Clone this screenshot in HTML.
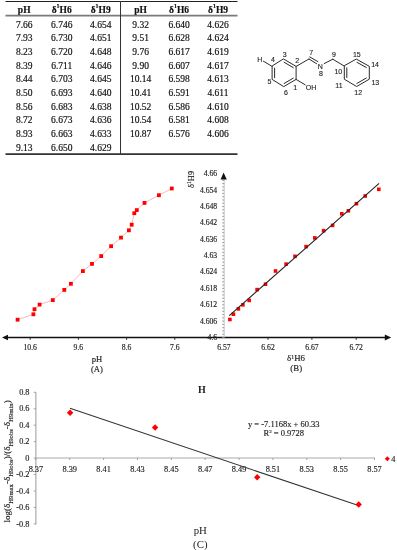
<!DOCTYPE html>
<html><head><meta charset="utf-8"><style>
html,body{margin:0;padding:0;background:#fff;width:397px;height:550px;overflow:hidden;}
svg{display:block;will-change:transform;}
</style></head><body>
<svg width="397" height="550" viewBox="0 0 397 550">
<rect width="397" height="550" fill="#fff"/>
<g font-family='"Liberation Serif", serif' font-size="9.50" fill="#111" stroke="#111" stroke-width="0.18" text-anchor="middle">
<text x="24.2" y="13.1" font-weight="bold">pH</text>
<text x="61.7" y="13.1" font-weight="bold">δ<tspan font-size="6" dy="-4.7">1</tspan><tspan dy="4.7">H6</tspan></text>
<text x="100.7" y="13.1" font-weight="bold">δ<tspan font-size="6" dy="-4.7">1</tspan><tspan dy="4.7">H9</tspan></text>
<text x="140.6" y="13.1" font-weight="bold">pH</text>
<text x="179.1" y="13.1" font-weight="bold">δ<tspan font-size="6" dy="-4.7">1</tspan><tspan dy="4.7">H6</tspan></text>
<text x="218.0" y="13.1" font-weight="bold">δ<tspan font-size="6" dy="-4.7">1</tspan><tspan dy="4.7">H9</tspan></text>
<text x="24.2" y="27.50">7.66</text>
<text x="61.7" y="27.50">6.746</text>
<text x="100.7" y="27.50">4.654</text>
<text x="140.6" y="27.50">9.32</text>
<text x="179.1" y="27.50">6.640</text>
<text x="218.0" y="27.50">4.626</text>
<text x="24.2" y="41.21">7.93</text>
<text x="61.7" y="41.21">6.730</text>
<text x="100.7" y="41.21">4.651</text>
<text x="140.6" y="41.21">9.51</text>
<text x="179.1" y="41.21">6.628</text>
<text x="218.0" y="41.21">4.624</text>
<text x="24.2" y="54.92">8.23</text>
<text x="61.7" y="54.92">6.720</text>
<text x="100.7" y="54.92">4.648</text>
<text x="140.6" y="54.92">9.76</text>
<text x="179.1" y="54.92">6.617</text>
<text x="218.0" y="54.92">4.619</text>
<text x="24.2" y="68.63">8.39</text>
<text x="61.7" y="68.63">6.711</text>
<text x="100.7" y="68.63">4.646</text>
<text x="140.6" y="68.63">9.90</text>
<text x="179.1" y="68.63">6.607</text>
<text x="218.0" y="68.63">4.617</text>
<text x="24.2" y="82.34">8.44</text>
<text x="61.7" y="82.34">6.703</text>
<text x="100.7" y="82.34">4.645</text>
<text x="140.6" y="82.34">10.14</text>
<text x="179.1" y="82.34">6.598</text>
<text x="218.0" y="82.34">4.613</text>
<text x="24.2" y="96.05">8.50</text>
<text x="61.7" y="96.05">6.693</text>
<text x="100.7" y="96.05">4.640</text>
<text x="140.6" y="96.05">10.41</text>
<text x="179.1" y="96.05">6.591</text>
<text x="218.0" y="96.05">4.611</text>
<text x="24.2" y="109.76">8.56</text>
<text x="61.7" y="109.76">6.683</text>
<text x="100.7" y="109.76">4.638</text>
<text x="140.6" y="109.76">10.52</text>
<text x="179.1" y="109.76">6.586</text>
<text x="218.0" y="109.76">4.610</text>
<text x="24.2" y="123.47">8.72</text>
<text x="61.7" y="123.47">6.673</text>
<text x="100.7" y="123.47">4.636</text>
<text x="140.6" y="123.47">10.54</text>
<text x="179.1" y="123.47">6.581</text>
<text x="218.0" y="123.47">4.608</text>
<text x="24.2" y="137.18">8.93</text>
<text x="61.7" y="137.18">6.663</text>
<text x="100.7" y="137.18">4.633</text>
<text x="140.6" y="137.18">10.87</text>
<text x="179.1" y="137.18">6.576</text>
<text x="218.0" y="137.18">4.606</text>
<text x="24.2" y="150.89">9.13</text>
<text x="61.7" y="150.89">6.650</text>
<text x="100.7" y="150.89">4.629</text>
</g>
<line x1="5.5" y1="1.5" x2="237.5" y2="1.5" stroke="#222" stroke-width="1.2"/>
<line x1="5.5" y1="15.6" x2="237.5" y2="15.6" stroke="#7a7a7a" stroke-width="1.8"/>
<line x1="5.5" y1="154.2" x2="237.5" y2="154.2" stroke="#333" stroke-width="1.8"/>
<line x1="120.5" y1="1" x2="120.5" y2="154" stroke="#333" stroke-width="1"/>
<g stroke="#2a2a2a" stroke-width="1.0" fill="none" stroke-linecap="round">
<polygon points="283.70,59.10 296.10,66.40 296.10,79.40 283.70,86.60 272.10,79.40 272.10,66.40"/>
<polygon points="356.60,59.25 369.30,66.30 369.30,79.20 356.60,86.50 344.30,79.20 344.30,66.10"/>
<line x1="284.07" y1="62.22" x2="293.25" y2="67.62"/>
<line x1="293.24" y1="78.17" x2="284.07" y2="83.50"/>
<line x1="274.60" y1="77.71" x2="274.60" y2="68.09"/>
<line x1="356.94" y1="62.30" x2="366.34" y2="67.51"/>
<line x1="366.34" y1="78.02" x2="356.95" y2="83.42"/>
<line x1="346.80" y1="77.53" x2="346.80" y2="67.83"/>
<line x1="272.1" y1="66.4" x2="263.4" y2="61.2"/>
<line x1="296.1" y1="66.4" x2="309.0" y2="59.0"/>
<line x1="309.0" y1="59.0" x2="316.6" y2="63.7"/>
<line x1="309.7" y1="56.9" x2="317.9" y2="61.6"/>
<line x1="324.2" y1="63.6" x2="332.8" y2="59.2"/>
<line x1="332.8" y1="59.2" x2="344.3" y2="66.1"/>
<line x1="296.1" y1="79.4" x2="305.2" y2="84.8"/>
</g>
<g font-family='"Liberation Sans", sans-serif' font-size="7.0" fill="#1a1a1a" stroke="#1a1a1a" stroke-width="0.12" text-anchor="middle">
<text x="259.9" y="62.25">H</text>
<text x="273.0" y="61.80">4</text>
<text x="284.7" y="56.90">3</text>
<text x="297.1" y="62.50">2</text>
<text x="269.5" y="83.60">5</text>
<text x="286.0" y="95.00">6</text>
<text x="295.2" y="89.90">1</text>
<text x="311.0" y="89.70">OH</text>
<text x="311.2" y="54.95">7</text>
<text x="320.2" y="69.10">N</text>
<text x="321.0" y="76.10">8</text>
<text x="334.0" y="56.50">9</text>
<text x="338.3" y="74.10">10</text>
<text x="339.0" y="88.10">11</text>
<text x="356.8" y="56.50">15</text>
<text x="375.1" y="67.10">14</text>
<text x="375.3" y="85.30">13</text>
<text x="358.2" y="95.30">12</text>
</g>
<line x1="6" y1="337.5" x2="386" y2="337.5" stroke="#111" stroke-width="1.3"/>
<polygon points="2,337.5 8,334.7 8,340.3" fill="#111"/>
<polygon points="391.2,337.5 384.8,334.5 384.8,340.5" fill="#111"/>
<line x1="30.2" y1="337.5" x2="30.2" y2="339.9" stroke="#222" stroke-width="0.9"/>
<line x1="78.4" y1="337.5" x2="78.4" y2="339.9" stroke="#222" stroke-width="0.9"/>
<line x1="126.6" y1="337.5" x2="126.6" y2="339.9" stroke="#222" stroke-width="0.9"/>
<line x1="174.8" y1="337.5" x2="174.8" y2="339.9" stroke="#222" stroke-width="0.9"/>
<g font-family='"Liberation Serif", serif' font-size="7.7" fill="#222" stroke="#222" stroke-width="0.15" text-anchor="middle">
<text x="30.2" y="349.9">10.6</text>
<text x="78.4" y="349.9">9.6</text>
<text x="126.6" y="349.9">8.6</text>
<text x="174.8" y="349.9">7.6</text>
<text x="96.9" y="361.5" font-size="8.6">pH</text>
<text x="96.9" y="371.5" font-size="8.6">(A)</text>
<text x="223.9" y="349.9">6.57</text>
<text x="268.0" y="349.9">6.62</text>
<text x="311.9" y="349.9">6.67</text>
<text x="356.2" y="349.9">6.72</text>
<text x="296.0" y="361.2" font-size="8.8">δ<tspan font-size="5.8" dy="-2.6">1</tspan><tspan dy="2.6">H6</tspan></text>
<text x="296.2" y="370.9" font-size="8.8">(B)</text>
</g>
<line x1="268.0" y1="337.5" x2="268.0" y2="339.9" stroke="#222" stroke-width="0.9"/>
<line x1="311.9" y1="337.5" x2="311.9" y2="339.9" stroke="#222" stroke-width="0.9"/>
<line x1="356.2" y1="337.5" x2="356.2" y2="339.9" stroke="#222" stroke-width="0.9"/>
<line x1="224.2" y1="178" x2="224.2" y2="337.5" stroke="#c8c8c8" stroke-width="1"/>
<polygon points="223.6,172.5 220.6,179.6 226.8,179.6" fill="#111"/>
<line x1="222.2" y1="337.50" x2="224.2" y2="337.50" stroke="#888" stroke-width="0.8"/>
<line x1="222.2" y1="334.23" x2="224.2" y2="334.23" stroke="#888" stroke-width="0.8"/>
<line x1="222.2" y1="330.95" x2="224.2" y2="330.95" stroke="#888" stroke-width="0.8"/>
<line x1="222.2" y1="327.68" x2="224.2" y2="327.68" stroke="#888" stroke-width="0.8"/>
<line x1="222.2" y1="324.40" x2="224.2" y2="324.40" stroke="#888" stroke-width="0.8"/>
<line x1="222.2" y1="321.13" x2="224.2" y2="321.13" stroke="#888" stroke-width="0.8"/>
<line x1="222.2" y1="317.86" x2="224.2" y2="317.86" stroke="#888" stroke-width="0.8"/>
<line x1="222.2" y1="314.58" x2="224.2" y2="314.58" stroke="#888" stroke-width="0.8"/>
<line x1="222.2" y1="311.31" x2="224.2" y2="311.31" stroke="#888" stroke-width="0.8"/>
<line x1="222.2" y1="308.03" x2="224.2" y2="308.03" stroke="#888" stroke-width="0.8"/>
<line x1="222.2" y1="304.76" x2="224.2" y2="304.76" stroke="#888" stroke-width="0.8"/>
<line x1="222.2" y1="301.49" x2="224.2" y2="301.49" stroke="#888" stroke-width="0.8"/>
<line x1="222.2" y1="298.21" x2="224.2" y2="298.21" stroke="#888" stroke-width="0.8"/>
<line x1="222.2" y1="294.94" x2="224.2" y2="294.94" stroke="#888" stroke-width="0.8"/>
<line x1="222.2" y1="291.66" x2="224.2" y2="291.66" stroke="#888" stroke-width="0.8"/>
<line x1="222.2" y1="288.39" x2="224.2" y2="288.39" stroke="#888" stroke-width="0.8"/>
<line x1="222.2" y1="285.12" x2="224.2" y2="285.12" stroke="#888" stroke-width="0.8"/>
<line x1="222.2" y1="281.84" x2="224.2" y2="281.84" stroke="#888" stroke-width="0.8"/>
<line x1="222.2" y1="278.57" x2="224.2" y2="278.57" stroke="#888" stroke-width="0.8"/>
<line x1="222.2" y1="275.29" x2="224.2" y2="275.29" stroke="#888" stroke-width="0.8"/>
<line x1="222.2" y1="272.02" x2="224.2" y2="272.02" stroke="#888" stroke-width="0.8"/>
<line x1="222.2" y1="268.75" x2="224.2" y2="268.75" stroke="#888" stroke-width="0.8"/>
<line x1="222.2" y1="265.47" x2="224.2" y2="265.47" stroke="#888" stroke-width="0.8"/>
<line x1="222.2" y1="262.20" x2="224.2" y2="262.20" stroke="#888" stroke-width="0.8"/>
<line x1="222.2" y1="258.92" x2="224.2" y2="258.92" stroke="#888" stroke-width="0.8"/>
<line x1="222.2" y1="255.65" x2="224.2" y2="255.65" stroke="#888" stroke-width="0.8"/>
<line x1="222.2" y1="252.38" x2="224.2" y2="252.38" stroke="#888" stroke-width="0.8"/>
<line x1="222.2" y1="249.10" x2="224.2" y2="249.10" stroke="#888" stroke-width="0.8"/>
<line x1="222.2" y1="245.83" x2="224.2" y2="245.83" stroke="#888" stroke-width="0.8"/>
<line x1="222.2" y1="242.55" x2="224.2" y2="242.55" stroke="#888" stroke-width="0.8"/>
<line x1="222.2" y1="239.28" x2="224.2" y2="239.28" stroke="#888" stroke-width="0.8"/>
<line x1="222.2" y1="236.01" x2="224.2" y2="236.01" stroke="#888" stroke-width="0.8"/>
<line x1="222.2" y1="232.73" x2="224.2" y2="232.73" stroke="#888" stroke-width="0.8"/>
<line x1="222.2" y1="229.46" x2="224.2" y2="229.46" stroke="#888" stroke-width="0.8"/>
<line x1="222.2" y1="226.18" x2="224.2" y2="226.18" stroke="#888" stroke-width="0.8"/>
<line x1="222.2" y1="222.91" x2="224.2" y2="222.91" stroke="#888" stroke-width="0.8"/>
<line x1="222.2" y1="219.64" x2="224.2" y2="219.64" stroke="#888" stroke-width="0.8"/>
<line x1="222.2" y1="216.36" x2="224.2" y2="216.36" stroke="#888" stroke-width="0.8"/>
<line x1="222.2" y1="213.09" x2="224.2" y2="213.09" stroke="#888" stroke-width="0.8"/>
<line x1="222.2" y1="209.81" x2="224.2" y2="209.81" stroke="#888" stroke-width="0.8"/>
<line x1="222.2" y1="206.54" x2="224.2" y2="206.54" stroke="#888" stroke-width="0.8"/>
<line x1="222.2" y1="203.27" x2="224.2" y2="203.27" stroke="#888" stroke-width="0.8"/>
<line x1="222.2" y1="199.99" x2="224.2" y2="199.99" stroke="#888" stroke-width="0.8"/>
<line x1="222.2" y1="196.72" x2="224.2" y2="196.72" stroke="#888" stroke-width="0.8"/>
<line x1="222.2" y1="193.44" x2="224.2" y2="193.44" stroke="#888" stroke-width="0.8"/>
<line x1="222.2" y1="190.17" x2="224.2" y2="190.17" stroke="#888" stroke-width="0.8"/>
<line x1="222.2" y1="186.90" x2="224.2" y2="186.90" stroke="#888" stroke-width="0.8"/>
<line x1="222.2" y1="183.62" x2="224.2" y2="183.62" stroke="#888" stroke-width="0.8"/>
<line x1="222.2" y1="180.35" x2="224.2" y2="180.35" stroke="#888" stroke-width="0.8"/>
<g font-family='"Liberation Serif", serif' font-size="7.7" fill="#222" stroke="#222" stroke-width="0.15" text-anchor="end">
<text x="217.2" y="339.90">4.6</text>
<text x="217.2" y="323.53">4.606</text>
<text x="217.2" y="307.16">4.612</text>
<text x="217.2" y="290.79">4.618</text>
<text x="217.2" y="274.42">4.624</text>
<text x="217.2" y="258.05">4.63</text>
<text x="217.2" y="241.68">4.636</text>
<text x="217.2" y="225.31">4.642</text>
<text x="217.2" y="208.94">4.648</text>
<text x="217.2" y="192.57">4.654</text>
<text x="217.2" y="176.20">4.66</text>
</g>
<text transform="translate(193.6,179.4) rotate(-90)" font-family='"Liberation Serif", serif' font-size="8.4" fill="#222" stroke="#222" stroke-width="0.15" text-anchor="middle">δ<tspan font-size="5.6" dy="-2.6">1</tspan><tspan dy="2.6">H9</tspan></text>
<polyline points="17.60,319.70 33.40,314.30 34.50,309.20 39.60,304.60 52.80,300.10 64.30,289.90 70.90,283.80 82.90,271.10 92.00,263.90 101.20,256.10 111.10,246.20 121.00,237.60 128.90,230.30 131.70,224.70 134.30,213.20 136.80,210.10 144.50,202.90 158.90,195.20 171.80,188.50" fill="none" stroke="#f2a8a8" stroke-width="0.8"/>
<rect x="15.70" y="317.80" width="3.8" height="3.8" fill="#f00"/>
<rect x="31.50" y="312.40" width="3.8" height="3.8" fill="#f00"/>
<rect x="32.60" y="307.30" width="3.8" height="3.8" fill="#f00"/>
<rect x="37.70" y="302.70" width="3.8" height="3.8" fill="#f00"/>
<rect x="50.90" y="298.20" width="3.8" height="3.8" fill="#f00"/>
<rect x="62.40" y="288.00" width="3.8" height="3.8" fill="#f00"/>
<rect x="69.00" y="281.90" width="3.8" height="3.8" fill="#f00"/>
<rect x="81.00" y="269.20" width="3.8" height="3.8" fill="#f00"/>
<rect x="90.10" y="262.00" width="3.8" height="3.8" fill="#f00"/>
<rect x="99.30" y="254.20" width="3.8" height="3.8" fill="#f00"/>
<rect x="109.20" y="244.30" width="3.8" height="3.8" fill="#f00"/>
<rect x="119.10" y="235.70" width="3.8" height="3.8" fill="#f00"/>
<rect x="127.00" y="228.40" width="3.8" height="3.8" fill="#f00"/>
<rect x="129.80" y="222.80" width="3.8" height="3.8" fill="#f00"/>
<rect x="132.40" y="211.30" width="3.8" height="3.8" fill="#f00"/>
<rect x="134.90" y="208.20" width="3.8" height="3.8" fill="#f00"/>
<rect x="142.60" y="201.00" width="3.8" height="3.8" fill="#f00"/>
<rect x="157.00" y="193.30" width="3.8" height="3.8" fill="#f00"/>
<rect x="169.90" y="186.60" width="3.8" height="3.8" fill="#f00"/>
<rect x="228.10" y="317.70" width="3.6" height="3.6" fill="#f00"/>
<rect x="231.60" y="312.40" width="3.6" height="3.6" fill="#f00"/>
<rect x="236.60" y="307.10" width="3.6" height="3.6" fill="#f00"/>
<rect x="241.10" y="303.05" width="3.6" height="3.6" fill="#f00"/>
<rect x="247.40" y="298.60" width="3.6" height="3.6" fill="#f00"/>
<rect x="255.30" y="287.80" width="3.6" height="3.6" fill="#f00"/>
<rect x="263.70" y="282.40" width="3.6" height="3.6" fill="#f00"/>
<rect x="273.70" y="269.20" width="3.6" height="3.6" fill="#f00"/>
<rect x="284.30" y="262.30" width="3.6" height="3.6" fill="#f00"/>
<rect x="293.20" y="254.50" width="3.6" height="3.6" fill="#f00"/>
<rect x="304.30" y="244.80" width="3.6" height="3.6" fill="#f00"/>
<rect x="313.00" y="236.10" width="3.6" height="3.6" fill="#f00"/>
<rect x="321.80" y="228.90" width="3.6" height="3.6" fill="#f00"/>
<rect x="330.80" y="223.60" width="3.6" height="3.6" fill="#f00"/>
<rect x="340.00" y="212.00" width="3.6" height="3.6" fill="#f00"/>
<rect x="346.60" y="209.00" width="3.6" height="3.6" fill="#f00"/>
<rect x="354.60" y="201.90" width="3.6" height="3.6" fill="#f00"/>
<rect x="363.40" y="194.20" width="3.6" height="3.6" fill="#f00"/>
<rect x="377.00" y="187.50" width="3.6" height="3.6" fill="#f00"/>
<line x1="229.3" y1="315.6" x2="379.1" y2="183.3" stroke="#222" stroke-width="1.1"/>
<text x="202.0" y="392.8" font-family='"Liberation Serif", serif' font-size="10" font-weight="bold" fill="#222" text-anchor="middle">H</text>
<line x1="35.9" y1="392.2" x2="35.9" y2="524.6" stroke="#999" stroke-width="1"/>
<line x1="35.9" y1="458.0" x2="375" y2="458.0" stroke="#aaa" stroke-width="1"/>
<g font-family='"Liberation Serif", serif' font-size="8.3" fill="#222" stroke="#222" stroke-width="0.15" text-anchor="end">
<line x1="33.7" y1="392.30" x2="35.9" y2="392.30" stroke="#999" stroke-width="0.9"/>
<text x="29.5" y="395.00">0.8</text>
<line x1="33.7" y1="408.75" x2="35.9" y2="408.75" stroke="#999" stroke-width="0.9"/>
<text x="29.5" y="411.45">0.6</text>
<line x1="33.7" y1="425.20" x2="35.9" y2="425.20" stroke="#999" stroke-width="0.9"/>
<text x="29.5" y="427.90">0.4</text>
<line x1="33.7" y1="441.65" x2="35.9" y2="441.65" stroke="#999" stroke-width="0.9"/>
<text x="29.5" y="444.35">0.2</text>
<line x1="33.7" y1="458.10" x2="35.9" y2="458.10" stroke="#999" stroke-width="0.9"/>
<text x="29.5" y="460.80">0</text>
<line x1="33.7" y1="474.55" x2="35.9" y2="474.55" stroke="#999" stroke-width="0.9"/>
<text x="29.5" y="477.25">-0.2</text>
<line x1="33.7" y1="491.00" x2="35.9" y2="491.00" stroke="#999" stroke-width="0.9"/>
<text x="29.5" y="493.70">-0.4</text>
<line x1="33.7" y1="507.45" x2="35.9" y2="507.45" stroke="#999" stroke-width="0.9"/>
<text x="29.5" y="510.15">-0.6</text>
<line x1="33.7" y1="523.90" x2="35.9" y2="523.90" stroke="#999" stroke-width="0.9"/>
<text x="29.5" y="526.60">-0.8</text>
</g>
<g font-family='"Liberation Serif", serif' font-size="8.3" fill="#222" stroke="#222" stroke-width="0.15" text-anchor="middle">
<line x1="35.90" y1="458.0" x2="35.90" y2="460.0" stroke="#999" stroke-width="0.9"/>
<text x="35.90" y="471.80">8.37</text>
<line x1="69.76" y1="458.0" x2="69.76" y2="460.0" stroke="#999" stroke-width="0.9"/>
<text x="69.76" y="471.80">8.39</text>
<line x1="103.62" y1="458.0" x2="103.62" y2="460.0" stroke="#999" stroke-width="0.9"/>
<text x="103.62" y="471.80">8.41</text>
<line x1="137.48" y1="458.0" x2="137.48" y2="460.0" stroke="#999" stroke-width="0.9"/>
<text x="137.48" y="471.80">8.43</text>
<line x1="171.34" y1="458.0" x2="171.34" y2="460.0" stroke="#999" stroke-width="0.9"/>
<text x="171.34" y="471.80">8.45</text>
<line x1="205.20" y1="458.0" x2="205.20" y2="460.0" stroke="#999" stroke-width="0.9"/>
<text x="205.20" y="471.80">8.47</text>
<line x1="239.06" y1="458.0" x2="239.06" y2="460.0" stroke="#999" stroke-width="0.9"/>
<text x="239.06" y="471.80">8.49</text>
<line x1="272.92" y1="458.0" x2="272.92" y2="460.0" stroke="#999" stroke-width="0.9"/>
<text x="272.92" y="471.80">8.51</text>
<line x1="306.78" y1="458.0" x2="306.78" y2="460.0" stroke="#999" stroke-width="0.9"/>
<text x="306.78" y="471.80">8.53</text>
<line x1="340.64" y1="458.0" x2="340.64" y2="460.0" stroke="#999" stroke-width="0.9"/>
<text x="340.64" y="471.80">8.55</text>
<line x1="374.50" y1="458.0" x2="374.50" y2="460.0" stroke="#999" stroke-width="0.9"/>
<text x="374.50" y="471.80">8.57</text>
</g>
<line x1="70.0" y1="408.3" x2="358.5" y2="505.6" stroke="#333" stroke-width="1.05"/>
<polygon points="70.10,409.60 73.30,412.80 70.10,416.00 66.90,412.80" fill="#f00"/>
<polygon points="155.10,424.30 158.30,427.50 155.10,430.70 151.90,427.50" fill="#f00"/>
<polygon points="257.20,474.10 260.40,477.30 257.20,480.50 254.00,477.30" fill="#f00"/>
<polygon points="358.70,501.30 361.90,504.50 358.70,507.70 355.50,504.50" fill="#f00"/>
<polygon points="387.30,456.30 389.80,458.80 387.30,461.30 384.80,458.80" fill="#f00"/>
<text x="391.3" y="461.9" font-family='"Liberation Serif", serif' font-size="8.3" fill="#222" stroke="#222" stroke-width="0.15">4</text>
<g font-family='"Liberation Serif", serif' font-size="8.5" fill="#222" stroke="#222" stroke-width="0.15" text-anchor="middle">
<text x="283.8" y="426.9">y = -7.1168x + 60.33</text>
<text x="283.8" y="435.9">R<tspan font-size="5" dy="-2.8">2</tspan><tspan dy="2.8"> = 0.9728</tspan></text>
</g>
<text x="200.3" y="534.0" font-family='"Liberation Serif", serif' font-size="10.8" fill="#222" text-anchor="middle">pH</text>
<text x="200.3" y="547.8" font-family='"Liberation Serif", serif' font-size="10.8" fill="#222" text-anchor="middle">(C)</text>
<text transform="translate(10.2,522.5) rotate(-90)" font-family='"Liberation Serif", serif' font-size="9" fill="#222" stroke="#222" stroke-width="0.15" text-anchor="start">log(δ<tspan font-size="6.7" dy="3.0">H9max</tspan><tspan dy="-3.0">-δ</tspan><tspan font-size="6.7" dy="3.0">H9obs</tspan><tspan dy="-3.0">)/(δ</tspan><tspan font-size="6.7" dy="3.0">H9obs</tspan><tspan dy="-3.0">-δ</tspan><tspan font-size="6.7" dy="3.0">H9min</tspan><tspan dy="-3.0">)</tspan></text>
</svg>
</body></html>
